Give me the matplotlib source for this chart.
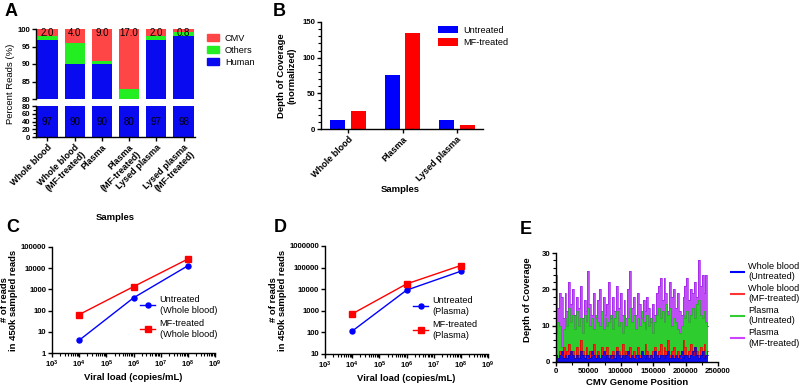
"""
Multi-panel CMV sequencing figure (A-E)
"""

import matplotlib.pyplot as plt
import numpy as np
from matplotlib.lines import Line2D
from matplotlib.patches import Patch
from matplotlib.ticker import FixedLocator, FuncFormatter, MultipleLocator

plt.rcParams["font.family"] = ["Liberation Sans", "DejaVu Sans"]
plt.rcParams["mathtext.default"] = "regular"

# Panel A: percent reads
a_samples = ["Whole blood", "Whole blood\n(MF-treated)", "Plasma", "Plasma\n(MF-treated)",
             "Lysed plasma", "Lysed plasma\n(MF-treated)"]
a_human = [97, 90, 90, 80, 97, 98]
a_others = [1, 6, 1, 3, 1, 1.2]
a_cmv = [2.0, 4.0, 9.0, 17.0, 2.0, 0.8]

# Panel B: normalized depth of coverage
b_samples = ["Whole blood", "Plasma", "Lysed plasma"]
b_untreated = [12.5, 75.5, 12]
b_mf = [25.5, 134, 6]

# Panel C / D: reads vs viral load
viral_load = [1e4, 1e6, 1e8]
c_untreated = [4, 400, 13000]
c_mf = [65, 1350, 27000]
d_untreated = [115, 9000, 68000]
d_mf = [720, 17500, 125000]

# Panel E: coverage along CMV genome (binned)
genome_end = 235000
e_plasma_mf = [24, 15, 19, 18, 12, 19, 14, 22, 16, 20, 13, 18, 15, 21, 12, 17, 14, 25, 16, 13,
               19, 12, 17, 20, 14, 18, 13, 16, 22, 12, 18, 14, 21, 15, 19, 13, 17, 12, 20, 25,
               15, 18, 13, 19, 16, 12, 17, 14, 18, 15, 11, 16, 13, 19, 21, 23, 17, 23, 19, 14,
               22, 18, 20, 15, 19, 14, 13, 18, 21, 23, 17, 20, 19, 22, 18, 28, 21, 24, 19, 24, 10]
e_plasma_un = [8, 11, 10, 4, 9, 12, 10, 15, 11, 13, 9, 14, 10, 12, 8, 13, 11, 15, 10, 12,
               9, 13, 11, 10, 14, 9, 12, 10, 11, 13, 9, 12, 14, 10, 11, 8, 13, 10, 12, 15,
               11, 13, 9, 12, 10, 14, 11, 9, 13, 10, 12, 8, 11, 13, 15, 12, 14, 11, 16, 13,
               15, 10, 12, 11, 9, 8, 10, 13, 12, 14, 11, 13, 15, 12, 16, 17, 13, 12, 14, 11, 10]
e_wb_mf = [2, 1, 3, 2, 4, 1, 3, 5, 2, 3, 1, 4, 2, 6, 3, 2, 4, 1, 3, 2,
           5, 2, 3, 1, 4, 2, 3, 4, 2, 1, 3, 2, 4, 3, 2, 5, 1, 3, 2, 4,
           2, 3, 1, 4, 2, 3, 2, 5, 3, 2, 1, 3, 4, 2, 3, 5, 2, 4, 3, 6,
           2, 3, 4, 2, 3, 1, 2, 6, 4, 2, 3, 5, 2, 4, 3, 2, 4, 3, 5, 2, 3]
e_wb_un = [2, 1, 2, 3, 1, 2, 1, 2, 3, 2, 1, 2, 1, 3, 2, 1, 2, 2, 1, 3,
           2, 1, 2, 1, 2, 3, 1, 2, 1, 2, 2, 1, 3, 2, 1, 2, 1, 2, 3, 1,
           2, 1, 2, 2, 1, 3, 2, 1, 2, 1, 2, 1, 3, 2, 1, 2, 2, 1, 2, 3,
           1, 2, 1, 2, 1, 2, 3, 1, 2, 2, 1, 2, 3, 4, 2, 1, 2, 3, 1, 2, 2]

BLUE = "#0a0af0"
GREEN = "#22ee22"
RED_A = "#ff4646"
W, H = 800, 388
TICK_FS = 5.6
LAB_FS = 6.8
LEG_FS = 6.6


def box(left, top, right, bottom):
    """Pixel box -> figure fraction rect."""
    return [left / W, 1 - bottom / H, (right - left) / W, (bottom - top) / H]


def prism(ax):
    for s in ["top", "right"]:
        ax.spines[s].set_visible(False)
    for s in ["left", "bottom"]:
        ax.spines[s].set_linewidth(1.0)
    ax.tick_params(which="major", direction="out", length=3, width=1, labelsize=TICK_FS, pad=1.2)
    ax.tick_params(which="minor", direction="out", length=2, width=0.8)
    for lab in ax.get_xticklabels() + ax.get_yticklabels():
        lab.set_fontweight("bold")


fig = plt.figure(figsize=(8, 3.88), dpi=100)

# ---------------- Panel A ----------------
xa = np.arange(len(a_samples))
bw = 0.74
a_top = fig.add_axes(box(36, 29, 195, 99))
a_bot = fig.add_axes(box(36, 106, 195, 137))
for ax in (a_top, a_bot):
    ax.bar(xa, a_human, bw, color=BLUE)
    ax.bar(xa, a_others, bw, bottom=a_human, color=GREEN)
    ax.bar(xa, a_cmv, bw, bottom=np.add(a_human, a_others), color=RED_A)
    ax.set_xlim(-0.42, 5.42)
a_top.set_ylim(80, 100)
a_bot.set_ylim(0, 80)
a_top.set_yticks([80, 85, 90, 95, 100])
a_bot.set_yticks([0, 20, 40, 60, 80])
a_bot.yaxis.set_minor_locator(MultipleLocator(10))
prism(a_top)
prism(a_bot)
a_top.spines["bottom"].set_visible(False)
a_top.set_xticks([])
a_bot.set_xticks(xa)
a_bot.set_xticklabels(a_samples, rotation=45, ha="right", rotation_mode="anchor",
                      fontsize=6.5, fontweight="bold", linespacing=1.1)
for i in xa:
    a_top.text(i, 98.9, f"{a_cmv[i]:.1f}", ha="center", va="center", fontsize=7)
    a_bot.text(i, 40, f"{a_human[i]}", ha="center", va="center", fontsize=7)
fig.text(11 / W, 1 - 84 / H, "Percent Reads (%)", rotation=90, ha="center", va="center",
         fontsize=LAB_FS)
fig.text(115 / W, 1 - 218 / H, "Samples", ha="center", va="center", fontsize=LAB_FS,
         fontweight="bold")
fig.legend(handles=[Patch(color=RED_A, label="CMV"), Patch(color=GREEN, label="Others"),
                    Patch(color=BLUE, label="Human")],
           loc="upper left", bbox_to_anchor=(203 / W, 1 - 30 / H), frameon=False,
           fontsize=LEG_FS, handlelength=1.4, handleheight=0.8, labelspacing=0.35,
           handletextpad=0.6, borderaxespad=0)

# ---------------- Panel B ----------------
xb = np.arange(len(b_samples))
axb = fig.add_axes(box(321, 22, 483, 129))
axb.bar(xb - 0.19, b_untreated, 0.28, color="#0000ff", label="Untreated")
axb.bar(xb + 0.19, b_mf, 0.28, color="#ff0000", label="MF-treated")
axb.set_xlim(-0.5, 2.48)
axb.set_ylim(0, 150)
axb.set_yticks([0, 50, 100, 150])
axb.yaxis.set_minor_locator(MultipleLocator(10))
prism(axb)
axb.set_xticks(xb)
axb.set_xticklabels(b_samples, rotation=45, ha="right", rotation_mode="anchor",
                    fontsize=6.5, fontweight="bold")
axb.set_ylabel("Depth of Coverage\n(normalized)", fontsize=LAB_FS, fontweight="bold",
               labelpad=4)
axb.legend(loc="upper left", bbox_to_anchor=(0.70, 1.0), frameon=False, fontsize=LEG_FS,
           handlelength=2.2, handleheight=0.9, labelspacing=0.35, handletextpad=0.6,
           borderaxespad=0)
fig.text(400 / W, 1 - 190 / H, "Samples", ha="center", va="center", fontsize=LAB_FS,
         fontweight="bold")


# ---------------- Panels C, D ----------------
def load_panel(rect, unt, mf, ylo, yhi, tag):
    ax = fig.add_axes(rect)
    ax.plot(viral_load, unt, "-o", color="#0000ff", ms=3.6, lw=1,
            label=f"Untreated\n({tag})")
    ax.plot(viral_load, mf, "-s", color="#ff0000", ms=4, lw=1,
            label=f"MF-treated\n({tag})")
    ax.set_xscale("log")
    ax.set_yscale("log")
    ax.set_xlim(1e3, 1e9)
    ax.set_ylim(ylo, yhi)
    ax.xaxis.set_major_locator(FixedLocator([10.0 ** k for k in range(3, 10)]))
    ax.xaxis.set_major_formatter(FuncFormatter(lambda v, p: f"10$^{{{int(round(np.log10(v)))}}}$"))
    ax.yaxis.set_major_locator(FixedLocator([10.0 ** k for k in range(0, 7)]))
    ax.yaxis.set_major_formatter(FuncFormatter(lambda v, p: f"{int(round(v))}"))
    ax.yaxis.set_minor_locator(FixedLocator([]))
    prism(ax)
    ax.set_xlabel("Viral load (copies/mL)", fontsize=LAB_FS, fontweight="bold", labelpad=2)
    ax.set_ylabel("# of reads\nin 450k sampled reads", fontsize=LAB_FS, fontweight="bold",
                  labelpad=2, linespacing=1.0)
    ax.legend(loc="lower left", bbox_to_anchor=(0.52, 0.1), frameon=False, fontsize=LEG_FS,
              handlelength=1.6, labelspacing=0.5, handletextpad=0.5, borderaxespad=0)
    return ax


load_panel(box(52, 247, 215, 353), c_untreated, c_mf, 1, 1e5, "Whole blood")
load_panel(box(325, 246, 488, 354), d_untreated, d_mf, 10, 1e6, "Plasma")

# ---------------- Panel E ----------------
axe = fig.add_axes(box(556, 253, 718, 362))
series_e = [
    (e_plasma_mf, "#c04ef5", "#a01ee8", "Plasma\n(MF-treated)"),
    (e_plasma_un, "#2ecc2e", "#22aa22", "Plasma\n(Untreated)"),
    (e_wb_mf, "#ff2020", "#ee0000", "Whole blood\n(MF-treated)"),
    (e_wb_un, "#1010ee", "#0000cc", "Whole blood\n(Untreated)"),
]
for vals, fc, lc, lab in series_e:
    pos = np.linspace(0, genome_end, len(vals))
    axe.fill_between(pos, vals, step="mid", color=fc, lw=0)
    axe.step(pos, vals, where="mid", color=lc, lw=0.5)
axe.set_xlim(0, 250000)
axe.set_ylim(0, 30)
axe.set_xticks([0, 50000, 100000, 150000, 200000, 250000])
axe.set_yticks([0, 10, 20, 30])
axe.xaxis.set_minor_locator(MultipleLocator(25000))
axe.yaxis.set_minor_locator(MultipleLocator(2))
prism(axe)
axe.set_xlabel("CMV Genome Position", fontsize=LAB_FS, fontweight="bold", labelpad=2)
fig.text(527 / W, 1 - 300 / H, "Depth of Coverage", rotation=90, ha="center", va="center",
         fontsize=LAB_FS, fontweight="bold")
e_handles = [Line2D([], [], color=c, lw=1.5) for c in ["#0000ff", "#ff3333", "#33cc33", "#cc44ff"]]
e_labels = [s[3] for s in series_e[::-1]]
fig.legend(e_handles, e_labels, loc="upper left", bbox_to_anchor=(727 / W, 1 - 258 / H),
           frameon=False, fontsize=LEG_FS, handlelength=1.4, labelspacing=0.3,
           handletextpad=0.5, borderaxespad=0)

# panel letters
for letter, (px, py) in zip("ABCDE", [(5, 12), (273, 11), (6, 228), (274, 228), (520, 230)]):
    fig.text(px / W, 1 - py / H, letter, fontsize=13, fontweight="bold", ha="left",
             va="center")

plt.savefig("out.png", dpi=100)
